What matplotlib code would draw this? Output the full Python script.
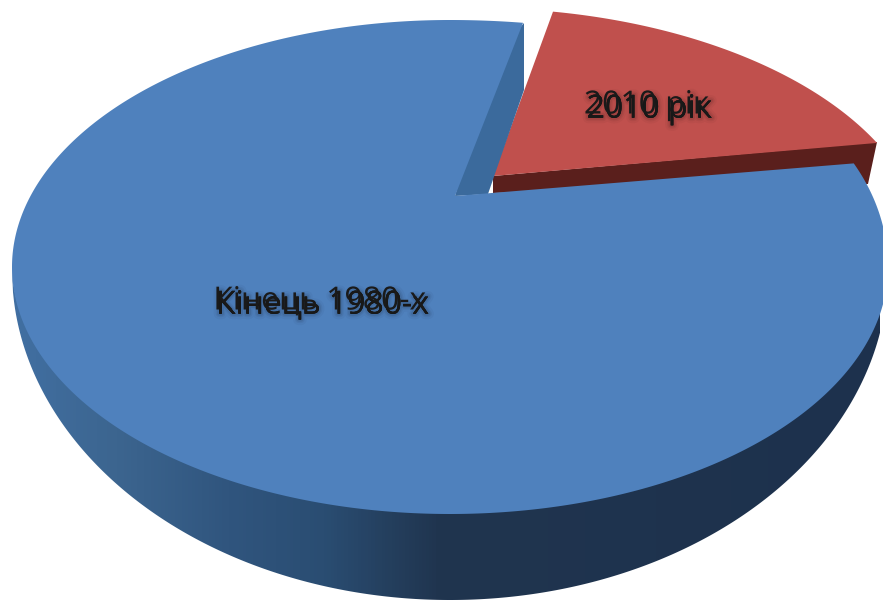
import numpy as np
import matplotlib
matplotlib.use("Agg")
import matplotlib.pyplot as plt
from matplotlib.patches import Polygon
import matplotlib.patheffects as pe
from matplotlib.colors import LinearSegmentedColormap

# data
labels = ["Кінець 1980-х", "2010 рік"]
values = [84, 16]
colors = ["#4f81bd", "#c0504d"]
side_colors = ["#3b6a9c", "#5a1f1c"]
label_x = [320, 647]
label_y = [301, 105]

W, H = 883, 601
fig = plt.figure(figsize=(W / 100, H / 100), dpi=100)
ax = fig.add_axes([0, 0, 1, 1])
ax.set_xlim(0, W)
ax.set_ylim(H, 0)
ax.axis("off")

CX, CY, RX, RY = 450, 267, 438, 247
APEX = (455, 196)
start = np.deg2rad(80.4)
blue_sweep = 2 * np.pi * values[0] / sum(values)
red_sweep = 2 * np.pi * values[1] / sum(values)

# blue top face (slightly warped on the right, as in the perspective of the picture)
blue_t = np.linspace(start, start + blue_sweep, 600)
bx = CX + RX * np.cos(blue_t)
by = CY - RY * np.sin(blue_t)
warp = (np.sin(blue_t) > 0) & (np.cos(blue_t) > 0)
by = by - 24 * np.where(warp, np.cos(blue_t) ** 2 * np.sin(blue_t), 0)

# outer wall: the rim is the top ellipse stretched downwards
xs = np.linspace(12, 888, 877)
top = CY + RY * np.sqrt(np.clip(1 - ((xs - CX) / RX) ** 2, 0, 1))
outer = 270 + 330 * np.sqrt(np.clip(1 - ((xs - CX) / RX) ** 2, 0, 1))
wall = Polygon(np.r_[np.c_[xs, top - 3], np.c_[xs, outer][::-1]], closed=True, fc="none", ec="none")
ax.add_patch(wall)
cmap = LinearSegmentedColormap.from_list(
    "w", [(0, "#416fa2"), (0.12, "#3c658f"), (0.25, "#30557e"), (0.36, "#2a4d72"),
          (0.49, "#20354f"), (1, "#1d314d")])
im = ax.imshow(np.linspace(0, 1, 256)[None, :], cmap=cmap, extent=[12, 880, 601, 0],
               aspect="auto", zorder=1)
im.set_clip_path(wall)
ax.set_xlim(0, W)
ax.set_ylim(H, 0)

# exploded red slice
RCX, RCY, RRX, RRY = 476, 255, 450, 247
rs = np.arccos((553 - RCX) / RRX)
rt = np.linspace(rs, rs - red_sweep * 0.923, 120)
red_top = np.c_[RCX + RRX * np.cos(rt), RCY - RRY * np.sin(rt)]
red_top = np.r_[[[493, 176]], red_top]
ax.add_patch(Polygon([(493, 176), (877, 142), (868, 184), (493, 193)],
                     fc=side_colors[1], ec="none", zorder=2))
ax.add_patch(Polygon(red_top, fc=colors[1], ec="none", zorder=3))

# blue inner cut wall, tucked under the blue face so no seam shows
ax.add_patch(Polygon([(518, 30), (524, 23), (524, 90), (488, 194), (455, 196), (465, 160)],
                     fc=side_colors[0], ec="none", zorder=4))
ax.add_patch(Polygon(np.r_[[APEX], np.c_[bx, by]], fc=colors[0], ec="none", zorder=5))

effects = [pe.Stroke(linewidth=w, foreground=(0, 0, 0, a), offset=(2, -3))
           for w, a in ((8, 0.03), (5, 0.05), (3, 0.07))] + [pe.Normal()]
for lab, x, y in zip(labels, label_x, label_y):
    t = ax.text(x, y, lab, ha="center", va="center", fontsize=23, family="Open Sans",
                color="#1a1a1a", zorder=6)
    t.set_path_effects(effects)

fig.savefig("out.png", dpi=100)
